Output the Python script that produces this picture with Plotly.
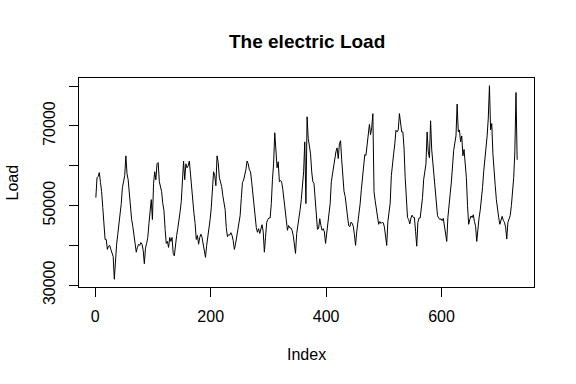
import plotly.graph_objects as go

# Daily electric load (in thousands) at every 2nd index (1, 3, 5, ..., 731)
load_thousands = [
    52.0, 57.0, 57.3, 58.3, 55.8, 53.5, 49.5, 46.0, 41.5, 41.5,
    39.0, 39.8, 40.0, 39.0, 38.0, 37.2, 31.5, 37.9, 40.3, 42.8,
    45.0, 47.2, 50.5, 54.5, 55.7, 57.5, 62.5, 58.0, 56.5, 52.5,
    49.5, 46.5, 44.8, 43.0, 40.5, 38.3, 39.5, 40.3, 40.0, 40.7,
    40.3, 38.8, 35.4, 39.3, 40.5, 42.0, 45.5, 49.5, 51.5, 46.5,
    55.5, 58.5, 56.5, 60.5, 60.8, 56.0, 54.3, 53.5, 50.5, 48.8,
    44.0, 40.5, 41.0, 39.5, 42.0, 41.0, 42.0, 38.0, 37.4, 40.5,
    42.5, 44.3, 46.0, 48.5, 51.0, 55.5, 61.2, 56.5, 60.5, 59.5,
    60.0, 61.2, 57.5, 54.0, 51.0, 48.0, 45.5, 41.5, 42.5, 40.3,
    42.0, 42.8, 42.0, 40.0, 38.3, 37.0, 40.0, 41.8, 44.0, 46.5,
    49.5, 54.5, 58.5, 57.5, 55.0, 62.5, 60.8, 57.0, 55.9, 54.8,
    52.5, 50.5, 49.0, 44.5, 42.2, 42.7, 42.6, 43.2, 42.5, 41.2,
    39.0, 40.3, 42.0, 43.5, 44.8, 47.5, 51.8, 55.8, 56.4, 57.5,
    59.0, 61.2, 60.5, 59.0, 58.5, 56.0, 52.6, 50.0, 47.8, 44.5,
    43.3, 44.2, 43.0, 44.0, 45.2, 43.4, 38.3, 42.0, 45.8, 46.5,
    46.9, 46.9, 50.5, 56.5, 60.5, 68.3, 64.5, 59.5, 61.0, 56.0,
    56.3, 55.9, 54.0, 51.8, 49.5, 46.5, 43.8, 45.0, 44.4, 44.4,
    43.8, 42.5, 40.8, 38.0, 43.0, 44.8, 46.7, 49.0, 51.5, 54.3,
    58.5, 66.0, 50.5, 72.3, 66.8, 65.0, 63.0, 58.5, 56.0, 55.5,
    51.0, 45.8, 44.0, 44.3, 46.7, 45.0, 43.8, 44.2, 43.4, 40.5,
    43.4, 46.2, 48.3, 50.5, 56.0, 58.2, 59.5, 62.0, 63.5, 64.5,
    61.8, 65.5, 66.3, 61.5, 57.5, 53.6, 52.3, 49.5, 46.8, 45.0,
    44.7, 45.8, 45.6, 44.8, 42.8, 40.0, 43.4, 45.5, 48.0, 50.5,
    54.0, 57.5, 60.5, 62.8, 62.6, 65.5, 68.0, 70.4, 67.8, 69.5,
    73.1, 53.5, 51.2, 49.0, 47.2, 45.3, 46.0, 45.5, 45.8, 45.7,
    44.6, 42.5, 40.0, 46.0, 48.2, 50.6, 57.5, 61.0, 63.0, 65.5,
    68.9, 68.5, 69.0, 73.1, 70.5, 68.5, 68.5, 64.5, 57.0, 50.0,
    47.0, 46.5, 45.4, 46.9, 47.6, 47.0, 47.0, 43.5, 39.8, 45.8,
    46.9, 46.9, 49.0, 52.0, 56.5, 59.3, 60.5, 68.5, 63.5, 62.0,
    71.3, 64.0, 60.8, 57.5, 55.4, 51.2, 47.5, 46.9, 46.5, 46.7,
    46.2, 46.8, 45.0, 43.0, 41.0, 47.0, 49.4, 53.0, 55.9, 60.3,
    63.8, 65.7, 67.5, 75.5, 68.5, 69.0, 66.0, 67.5, 62.5, 64.1,
    60.8, 57.0, 50.0, 45.3, 46.5, 47.4, 47.0, 47.7, 46.0, 44.8,
    41.0, 45.0, 46.9, 48.8, 51.3, 54.5, 58.5, 61.3, 64.9, 67.5,
    72.0, 80.1, 69.0, 70.6, 63.0, 58.0, 55.0, 51.5, 48.5, 47.0,
    45.3, 46.1, 47.3, 46.3, 45.8, 44.6, 41.6, 45.8, 46.9, 47.5,
    50.0, 53.5, 57.0, 63.5, 78.4, 61.5,
]
index_step = 2
index_start = 1
load = [v * 1000 for v in load_thousands]
index = [index_start + index_step * i for i in range(len(load))]

x_ticks = [0, 200, 400, 600]
y_ticks = [30000, 40000, 50000, 60000, 70000, 80000]
y_ticktext = ["30000", "", "50000", "", "70000", ""]

title_text = "The electric Load"
x_title = "Index"
y_title = "Load"

font_family = "Liberation Sans, Arial, sans-serif"

# R-style 4% axis padding
xmin, xmax = min(index), max(index)
ymin, ymax = min(load), max(load)
xpad = 0.04 * (xmax - xmin)
ypad = 0.04 * (ymax - ymin)

fig = go.Figure()
fig.add_trace(go.Scatter(x=index, y=load, mode="lines",
                         line=dict(color="black", width=1), showlegend=False,
                         hoverinfo="skip"))

axis_common = dict(showgrid=False, zeroline=False, showline=True, mirror=True,
                   linecolor="black", linewidth=1, ticks="outside", ticklen=9,
                   tickcolor="black", tickwidth=1, automargin=False,
                   tickfont=dict(family=font_family, size=16, color="black"))

fig.update_layout(
    width=576, height=384,
    margin=dict(l=79, r=42, t=78, b=97),
    paper_bgcolor="white", plot_bgcolor="white",
    hovermode=False,
    xaxis=dict(range=[xmin - xpad, xmax + xpad], tickvals=x_ticks,
               ticklabelstandoff=6, **axis_common),
    yaxis=dict(range=[ymin - ypad, ymax + ypad], tickvals=y_ticks, ticktext=y_ticktext,
               tickangle=-90, ticklabelstandoff=8, **axis_common),
    annotations=[
        dict(text="<b>" + title_text + "</b>", x=0.5, y=1, xref="paper", yref="paper",
             xanchor="center", yanchor="middle", yshift=37, showarrow=False,
             font=dict(family=font_family, size=19, color="black")),
        dict(text=x_title, x=0.5, y=0, xref="paper", yref="paper",
             xanchor="center", yanchor="middle", yshift=-67, showarrow=False,
             font=dict(family=font_family, size=16, color="black")),
        dict(text=y_title, x=0, y=0.5, xref="paper", yref="paper", textangle=-90,
             xanchor="center", yanchor="middle", xshift=-67, showarrow=False,
             font=dict(family=font_family, size=16, color="black")),
    ],
)

# Remove the browser's default 8px page margin so the 576x384 figure fills the window
fig.write_html("out.html",
               config={"displayModeBar": False, "staticPlot": True},
               post_script="document.body.style.margin='0';document.body.style.overflow='hidden';")
